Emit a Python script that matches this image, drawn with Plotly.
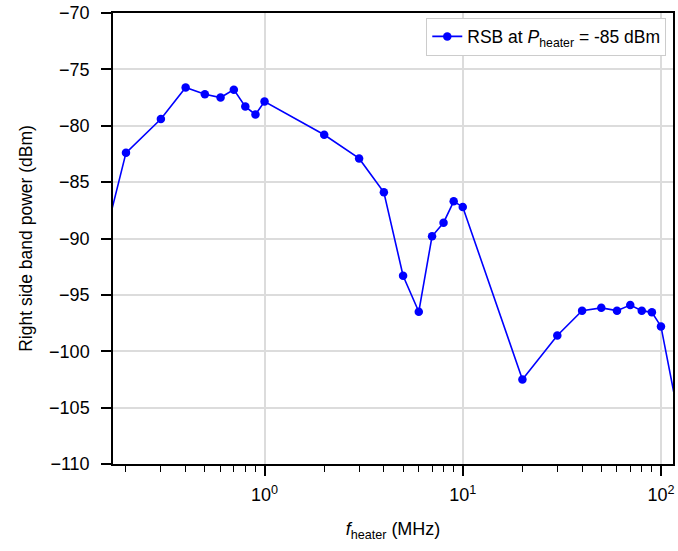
import math
import plotly.graph_objects as go

# Data
freq_mhz = [0.1, 0.2, 0.3, 0.4, 0.5, 0.6, 0.7, 0.8, 0.9, 1, 2, 3, 4, 5, 6, 7, 8, 9, 10,
            20, 30, 40, 50, 60, 70, 80, 90, 100, 200]
rsb_dbm = [-103.7, -82.4, -79.4, -76.6, -77.2, -77.5, -76.8, -78.3, -79.0, -77.85,
           -80.8, -82.9, -85.9, -93.3, -96.5, -89.8, -88.6, -86.7, -87.2,
           -102.5, -98.6, -96.4, -96.15, -96.4, -95.9, -96.4, -96.55, -97.8, -125.0]

x_major = [1, 10, 100]
x_major_text = ["10<sup>0</sup>", "10<sup>1</sup>", "10<sup>2</sup>"]
x_minor = [0.2, 0.3, 0.4, 0.5, 0.6, 0.7, 0.8, 0.9, 2, 3, 4, 5, 6, 7, 8, 9,
           20, 30, 40, 50, 60, 70, 80, 90]
y_ticks = [-110, -105, -100, -95, -90, -85, -80, -75, -70]
y_tick_text = ["\u2212110", "\u2212105", "\u2212100", "\u221295", "\u221290",
               "\u221285", "\u221280", "\u221275", "\u221270"]

x_range = [0.172, 115]
y_range = [-110, -70]

FONT = "Liberation Sans, Arial, sans-serif"

fig = go.Figure()
fig.add_trace(go.Scatter(
    x=freq_mhz, y=rsb_dbm, mode="lines+markers",
    line=dict(color="#0000ff", width=1.6),
    marker=dict(color="#0000ff", size=8.5),
    name="RSB at <i>P</i><sub>heater</sub> = -85 dBm",
    cliponaxis=True,
))

fig.update_layout(
    width=678, height=551,
    margin=dict(l=113, r=3, t=12, b=87),
    paper_bgcolor="white", plot_bgcolor="white",
    font=dict(family=FONT, size=18, color="black"),
    showlegend=True,
    legend=dict(
        x=0.988, y=0.99, xanchor="right", yanchor="top",
        bgcolor="white", bordercolor="#cccccc", borderwidth=1,
        font=dict(size=17.5),
    ),
)

fig.update_xaxes(
    type="log",
    range=[math.log10(x_range[0]), math.log10(x_range[1])],
    tickvals=x_major, ticktext=x_major_text,
    ticks="outside", ticklen=10, tickwidth=1.5, tickcolor="black",
    ticklabelstandoff=4,
    showline=True, linecolor="black", linewidth=1.5, mirror=True,
    showgrid=True, gridcolor="#dcdcdc", gridwidth=1.5,
    zeroline=False,
    minor=dict(tickvals=x_minor, ticks="outside", ticklen=6, tickwidth=1.2,
               tickcolor="black", showgrid=False),
    title=dict(text="<i>f</i><sub>heater</sub> (MHz)", font=dict(size=18), standoff=18),
    tickfont=dict(size=18),
)
fig.update_yaxes(
    range=y_range,
    tickvals=y_ticks, ticktext=y_tick_text,
    ticks="outside", ticklen=10, tickwidth=1.5, tickcolor="black",
    ticklabelstandoff=8,
    showline=True, linecolor="black", linewidth=1.5, mirror=True,
    showgrid=True, gridcolor="#dcdcdc", gridwidth=1.5,
    zeroline=False,
    title=dict(text="Right side band power (dBm)", font=dict(size=17.5), standoff=12),
    tickfont=dict(size=18),
)

fig.write_html("out.html")
